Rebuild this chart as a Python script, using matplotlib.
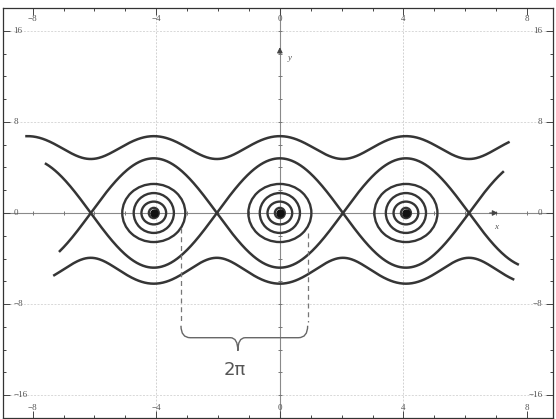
import matplotlib
matplotlib.use("Agg")
import matplotlib.pyplot as plt
import numpy as np
from matplotlib.patches import Ellipse, PathPatch
from matplotlib.path import Path
import matplotlib.transforms as mtransforms

# Pendulum-like phase portrait: y^2/2 - k cos(2*pi*x/P) = E
periodo = 4.08
k = 5.76
centros = [-periodo, 0.0, periodo]

# closed orbits around each centre (half-width, half-height)
anillos_rx = [0.16, 0.40, 0.65, 1.02]
anillos_ry = [0.45, 1.00, 1.75, 2.55]

# rotating orbits: energy and x-range
energia_arriba = 17.0
rango_arriba = (-8.2, 7.4)
energia_abajo = 13.5
rango_abajo = (-7.3, 7.55)

# separatrix branches (+ and -) and where they stop
rango_sep_pos = (-7.57, 7.22)
rango_sep_neg = (-7.12, 7.7)

xticks_major = [-8, -4, 0, 4, 8]
yticks_major = [-16, -8, 0, 8, 16]

tinta = "#353535"
gris = "#6a6a6a"

fig = plt.figure(figsize=(5.56, 4.19), dpi=100)
ax = fig.add_axes([3 / 556, 1 / 419, 550 / 556, 410 / 419])
ax.set_xlim(-8.96, 8.84)
ax.set_ylim(-18, 18)

# faint grid
for gx in [-4, 4]:
    ax.axvline(gx, color="#d2d2d2", lw=0.7, ls=(0, (2, 1.5)), zorder=0)
for gy in [-16, -8, 8, 16]:
    ax.axhline(gy, color="#d8d8d8", lw=0.7, ls=(0, (2, 1.5)), zorder=0)

# coordinate axes through the origin
ax.axhline(0, color="#8a8a8a", lw=0.8, zorder=1)
ax.axvline(0, color="#8a8a8a", lw=0.8, zorder=1)
xs_tick = np.arange(-8, 9)
ax.scatter(xs_tick, np.zeros_like(xs_tick), marker="|", s=12, color="#777", lw=0.7, zorder=1)
ys_tick = np.arange(-16, 17, 2)
ax.scatter(np.zeros_like(ys_tick), ys_tick, marker="_", s=12, color="#777", lw=0.7, zorder=1)
ax.annotate("", xy=(7.15, 0), xytext=(6.7, 0),
            arrowprops=dict(arrowstyle="-|>", color="#444", lw=0.8, mutation_scale=8))
ax.annotate("", xy=(0, 14.8), xytext=(0, 13.8),
            arrowprops=dict(arrowstyle="-|>", color="#444", lw=0.8, mutation_scale=8))
ax.text(7.0, -0.9, "x", fontsize=6.5, style="italic", color="#555", ha="center", va="top",
        family="Liberation Serif")
ax.text(0.25, 13.6, "y", fontsize=6.5, style="italic", color="#555", ha="left", va="center",
        family="Liberation Serif")

w = 2 * np.pi / periodo

# rotations (top and bottom)
x = np.linspace(*rango_arriba, 600)
ax.plot(x, np.sqrt(2 * (energia_arriba + k * np.cos(w * x))), color=tinta, lw=1.8)
x = np.linspace(*rango_abajo, 600)
ax.plot(x, -np.sqrt(2 * (energia_abajo + k * np.cos(w * x))), color=tinta, lw=1.8)

# separatrix
amp = 2 * np.sqrt(k)
x = np.linspace(*rango_sep_pos, 600)
ax.plot(x, amp * np.cos(w * x / 2), color=tinta, lw=1.8)
x = np.linspace(*rango_sep_neg, 600)
ax.plot(x, -amp * np.cos(w * x / 2), color=tinta, lw=1.8)

# closed orbits and centres
for c in centros:
    for rx, ry in zip(anillos_rx, anillos_ry):
        ax.add_patch(Ellipse((c, 0), 2 * rx, 2 * ry, fill=False, ec=tinta, lw=1.7))
    ax.plot(c, 0, "o", color="#111", ms=5)

# period bracket
ax.plot([-3.2, -3.2], [-1.3, -9.6], color="#777", lw=0.9, ls=(0, (4, 3)))
ax.plot([0.9, 0.9], [-1.8, -9.6], color="#777", lw=0.9, ls=(0, (4, 3)))
verts = [(-3.2, -9.9), (-3.2, -10.95), (-2.9, -10.95), (-1.6, -10.95),
         (-1.36, -10.95), (-1.36, -12.1), (-1.36, -10.95), (-1.12, -10.95),
         (0.6, -10.95), (0.9, -10.95), (0.9, -9.9)]
codes = [Path.MOVETO, Path.CURVE3, Path.CURVE3, Path.LINETO,
         Path.CURVE3, Path.CURVE3, Path.CURVE3, Path.CURVE3,
         Path.LINETO, Path.CURVE3, Path.CURVE3]
ax.add_patch(PathPatch(Path(verts, codes), fill=False, ec="#666", lw=1.0))
ax.text(-1.45, -13.8, "2π", fontsize=13, color="#555", ha="center", va="center")

# frame ticks on every side, pointing in
ax.set_xticks(xticks_major)
ax.set_xticks(np.arange(-8, 9), minor=True)
ax.set_yticks(yticks_major)
ax.set_yticks(np.arange(-16, 17, 2), minor=True)
ax.tick_params(which="both", direction="in", top=True, right=True,
               labelbottom=False, labelleft=False, color="#444", width=0.7)
ax.tick_params(which="major", length=5)
ax.tick_params(which="minor", length=2.5)
for s in ax.spines.values():
    s.set_color("#333")
    s.set_linewidth(0.9)

# tick labels drawn inside the frame
tx = mtransforms.blended_transform_factory(ax.transData, ax.transAxes)
ty = mtransforms.blended_transform_factory(ax.transAxes, ax.transData)
for v in xticks_major:
    lab = str(v).replace("-", "−")
    ax.text(v, 0.972, lab, transform=tx, ha="center", va="center", fontsize=6.5,
            color="#555", family="Liberation Serif")
    ax.text(v, 0.024, lab, transform=tx, ha="center", va="center", fontsize=6.5,
            color="#555", family="Liberation Serif")
for v in yticks_major:
    lab = str(v).replace("-", "−")
    ax.text(0.019, v, lab, transform=ty, ha="left", va="center", fontsize=6.5,
            color="#555", family="Liberation Serif")
    ax.text(0.981, v, lab, transform=ty, ha="right", va="center", fontsize=6.5,
            color="#555", family="Liberation Serif")

fig.savefig("out.png", dpi=100, facecolor="white")
